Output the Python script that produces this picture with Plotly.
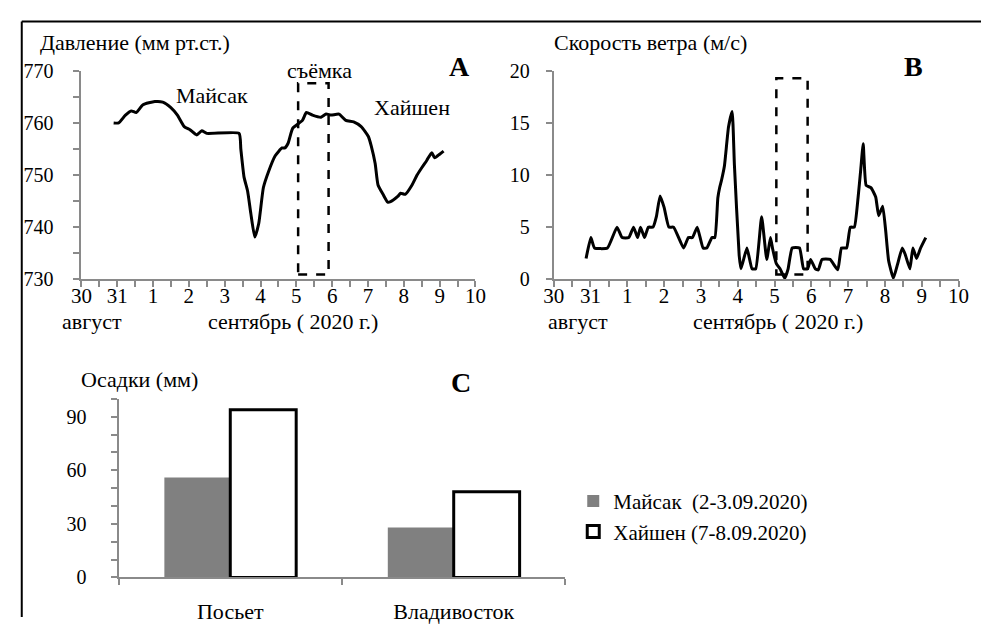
import plotly.graph_objects as go

W, H = 992, 628

# ---------------- data ----------------
day_labels = ["30", "31", "1", "2", "3", "4", "5", "6", "7", "8", "9", "10"]
day_ticks = list(range(len(day_labels)))  # days since 30 Aug

pressure_t = [0.90, 1.04, 1.23, 1.39, 1.53, 1.72, 2.05, 2.27, 2.49, 2.68, 2.87, 3.03,
              3.22, 3.36, 3.50, 4.40, 4.45, 4.54, 4.64, 4.73, 4.84, 4.95, 5.08, 5.22,
              5.41, 5.60, 5.68, 5.77, 5.90, 6.17, 6.28, 6.45, 6.69, 6.83, 6.97, 7.19,
              7.38, 7.60, 7.81, 8.01, 8.09, 8.20, 8.28, 8.42, 8.55, 8.63, 8.83, 8.91,
              9.04, 9.23, 9.37, 9.51, 9.64, 9.78, 9.86, 10.0, 10.11]
pressure_val = [760, 760, 761.5, 762.3, 762, 763.5, 764.1, 764.0, 763, 761.5, 759.3, 758.7,
                757.7, 758.5, 758, 758, 755, 749.6, 746.9, 742.6, 738.1, 740.7, 747.6, 750.6,
                753.7, 755.2, 755.2, 756.1, 759.0, 760.5, 762, 761.5, 761.1, 761.7, 761.5, 761.7,
                760.5, 760.2, 759.3, 757.4, 755.6, 752.2, 748.1, 746.3, 744.8, 744.9, 745.9, 746.5,
                746.3, 748.1, 750, 751.5, 752.8, 754.3, 753.3, 754, 754.6]

wind_t = [0.88, 1.01, 1.11, 1.46, 1.72, 1.86, 2.04, 2.17, 2.28, 2.36, 2.47, 2.57, 2.70,
          2.79, 2.89, 3.00, 3.13, 3.26, 3.53, 3.66, 3.77, 3.90, 4.06, 4.16, 4.30, 4.38,
          4.46, 4.51, 4.56, 4.64, 4.75, 4.85, 4.91, 5.04, 5.09, 5.25, 5.39, 5.49, 5.65,
          5.79, 5.89, 5.95, 6.05, 6.15, 6.28, 6.37, 6.48, 6.68, 6.79, 6.90, 6.98, 7.11,
          7.19, 7.29, 7.51, 7.72, 7.82, 7.96, 8.06, 8.17, 8.27, 8.34, 8.41, 8.49, 8.62,
          8.75, 8.83, 8.94, 9.02, 9.10, 9.23, 9.34, 9.47, 9.55, 9.68, 9.76, 9.86, 9.97, 10.11]
wind_val = [2.0, 4.0, 3.0, 3.0, 5.0, 4.0, 4.0, 5.0, 4.0, 5.0, 4.0, 5.0, 5.0,
            6.0, 8.0, 6.9, 5.0, 5.0, 3.0, 4.0, 4.0, 5.0, 3.0, 3.0, 4.0, 4.0,
            7.8, 8.8, 9.5, 10.9, 14.6, 16.1, 11.0, 2.3, 1.0, 3.0, 1.0, 1.0, 6.0,
            1.9, 4.0, 2.9, 1.5, 1.0, 0.1, 1.0, 3.0, 3.0, 1.0, 1.0, 1.9, 1.0,
            0.9, 1.9, 1.9, 0.9, 3.0, 3.0, 5.0, 5.0, 7.8, 10.4, 13.0, 9.0, 8.8,
            7.9, 6.1, 7.0, 4.7, 1.8, 0.1, 1.4, 3.0, 2.4, 1.0, 3.0, 2.0, 3.0, 4.0]

survey_days = [6.05, 6.90]          # "съёмка" window
survey_pressure = [730.9, 767.6]
survey_wind = [0.45, 19.3]

stations = ["Посьет", "Владивосток"]
rain_maysak = [56, 28]
rain_haishen = [94, 48]
legend_maysak = "Майсак  (2-3.09.2020)"
legend_haishen = "Хайшен (7-8.09.2020)"

# ---------------- helpers ----------------
def px(x):
    return x / W

def py(y):
    return 1 - y / H

FONT = "Liberation Serif, Tinos, Times New Roman, serif"
AX_COL = "#8a8a8a"
fs_tick = 20
fs_text = 22

fig = go.Figure()

fig.add_trace(go.Scatter(x=pressure_t, y=pressure_val, mode="lines",
                         line=dict(color="black", width=3, shape="spline", smoothing=0.5),
                         xaxis="x", yaxis="y", showlegend=False))
fig.add_trace(go.Scatter(x=wind_t, y=wind_val, mode="lines",
                         line=dict(color="black", width=3, shape="spline", smoothing=0.4),
                         xaxis="x2", yaxis="y2", showlegend=False))

fig.add_trace(go.Bar(x=stations, y=rain_maysak, name=legend_maysak,
                     marker=dict(color="#808080", line=dict(color="#808080", width=0)),
                     xaxis="x3", yaxis="y3"))
fig.add_trace(go.Bar(x=stations, y=rain_haishen, name=legend_haishen,
                     marker=dict(color="white", line=dict(color="black", width=3)),
                     xaxis="x3", yaxis="y3"))

common_axis = dict(showline=True, linecolor=AX_COL, linewidth=2, showgrid=False,
                   zeroline=False, ticks="outside", tickcolor=AX_COL, tickwidth=1.5,
                   tickfont=dict(family=FONT, size=fs_tick, color="black"))

time_axis = dict(common_axis, range=[0, 11], tickmode="array", tickvals=day_ticks,
                 ticktext=day_labels, ticklen=6, ticklabelstandoff=-9,
                 tickfont=dict(family=FONT, size=21, color="black"),
                 minor=dict(dtick=0.5, ticks="outside", ticklen=6, tickcolor=AX_COL, tickwidth=1.5))

fig.update_layout(
    width=W, height=H, margin=dict(l=0, r=0, t=0, b=0),
    paper_bgcolor="white", plot_bgcolor="white",
    font=dict(family=FONT, size=fs_text, color="black"),
    xaxis=dict(time_axis, domain=[px(72), px(475)], anchor="y"),
    yaxis=dict(common_axis, domain=[py(278), py(62)], range=[730, 770], dtick=10, ticklen=6,
               ticklabelstandoff=16,
               minor=dict(dtick=5, ticks="outside", ticklen=6, tickcolor=AX_COL, tickwidth=1.5),
               anchor="x"),
    xaxis2=dict(time_axis, domain=[px(555), px(969)], anchor="y2"),
    yaxis2=dict(common_axis, domain=[py(278), py(62)], range=[0, 20], dtick=5, ticklen=6,
                ticklabelstandoff=12, anchor="x2"),
    xaxis3=dict(common_axis, domain=[px(110), px(567)], anchor="y3", type="category",
                tickson="boundaries", ticklen=6, ticklabelstandoff=13,
                tickfont=dict(family=FONT, size=fs_text, color="black")),
    yaxis3=dict(common_axis, domain=[py(587), py(402)], range=[0, 100], tickvals=[0, 30, 60, 90],
                ticklen=6, ticklabelstandoff=20,
                minor=dict(dtick=10, ticks="outside", ticklen=6, tickcolor=AX_COL, tickwidth=1.5),
                anchor="x3"),
    barmode="group", bargap=0.41, bargroupgap=0,
    legend=dict(x=px(575), y=py(487), xanchor="left", yanchor="top",
                font=dict(family=FONT, size=21, color="black"), bgcolor="rgba(0,0,0,0)",
                tracegroupgap=0),
)

# dashed survey windows
fig.add_shape(type="rect", xref="x", yref="y", x0=survey_days[0], x1=survey_days[1],
              y0=survey_pressure[0], y1=survey_pressure[1],
              line=dict(color="black", width=2.5, dash="dash"))
fig.add_shape(type="rect", xref="x2", yref="y2", x0=survey_days[0], x1=survey_days[1],
              y0=survey_wind[0], y1=survey_wind[1],
              line=dict(color="black", width=2.5, dash="dash"))

# outer frame (top + left edges)
fig.add_shape(type="line", xref="paper", yref="paper", x0=px(11), x1=1, y0=py(11), y1=py(11),
              line=dict(color="black", width=2))
fig.add_shape(type="line", xref="paper", yref="paper", x0=px(11), x1=px(11), y0=py(11), y1=0,
              line=dict(color="black", width=2))

def ann(text, x, y, xanchor="center", size=fs_text, bold=False):
    fig.add_annotation(text=f"<b>{text}</b>" if bold else text, x=px(x), y=py(y),
                       xref="paper", yref="paper", xanchor=xanchor, yanchor="middle",
                       showarrow=False, font=dict(family=FONT, size=size, color="black"))

ann("Давление (мм рт.ст.)", 28, 33, xanchor="left")
ann("Майсак", 206, 88)
ann("съёмка", 315, 62)
ann("Хайшен", 410, 100)
ann("A", 459, 57, size=28, bold=True)
ann("август", 83, 322)
ann("сентябрь ( 2020 г.)", 288, 322)

ann("Скорость ветра (м/с)", 553, 33, xanchor="left")
ann("B", 923, 57, size=28, bold=True)
ann("август", 580, 322)
ann("сентябрь ( 2020 г.)", 784, 322)

ann("Осадки (мм)", 70, 382, xanchor="left")
ann("C", 460, 385, size=28, bold=True)

fig.write_html("out.html")
